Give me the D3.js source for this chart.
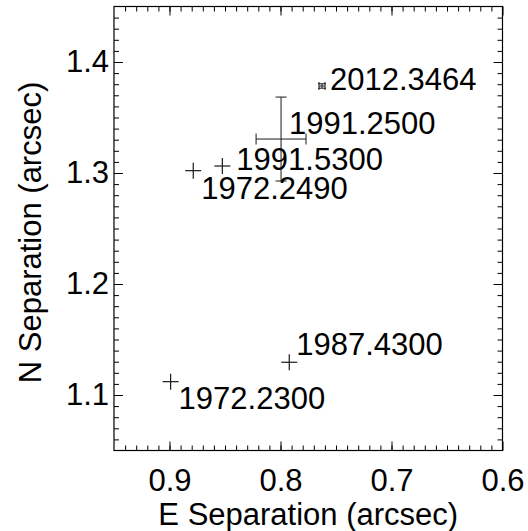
<!DOCTYPE html>
<html>
<head>
<meta charset="utf-8">
<script src="https://cdn.jsdelivr.net/npm/d3@7"></script>
<style>
  body { margin: 0; background: #fff; }
  svg text { font-family: "Liberation Sans", Arial, sans-serif; fill: #000; }
</style>
</head>
<body>
<svg id="chart" width="528" height="531"></svg>
<script>
// Observation epochs and separations (arcsec)
const epochs = ["1972.2300", "1972.2490", "1991.5300", "1991.2500", "2012.3464", "1987.4300"];
const eastSep = [0.899, 0.8786, 0.8524, 0.7995, 0.7626, 0.7921];
const northSep = [1.112, 1.3021, 1.3063, 1.3306, 1.3784, 1.1295];
const eastErr = [null, null, null, 0.0225, 0.0027, null];
const northErr = [null, null, null, 0.0378, 0.002, null];

const xTicks = [0.9, 0.8, 0.7, 0.6];
const yTicks = [1.1, 1.2, 1.3, 1.4];

// label offsets in pixels (dx, dy to baseline)
const labelOffsets = [[8, 27], [8, 28], [14, 4], [8, -5], [8, 4], [7, -7]];

const margin = { top: 6.5, right: 25.5, bottom: 80.5, left: 114 };
const width = 528 - margin.left - margin.right;
const height = 531 - margin.top - margin.bottom;

const svg = d3.select("#chart")
  .append("g")
  .attr("transform", `translate(${margin.left},${margin.top})`);

const x = d3.scaleLinear().domain([0.95, 0.6]).range([0, width]);
const y = d3.scaleLinear().domain([1.05, 1.45]).range([height, 0]);

const xMinor = d3.range(0, 36).map(i => +(0.95 - i * 0.01).toFixed(2)).filter(v => v > 0.6 && v < 0.95);
const yMinor = d3.range(0, 41).map(i => +(1.05 + i * 0.01).toFixed(2)).filter(v => v > 1.05 && v < 1.45);

function styleAxis(g) {
  g.select(".domain").remove();
  g.selectAll("line").attr("stroke", "#000").attr("stroke-width", 1);
}

// minor ticks on all four sides
svg.append("g").attr("transform", `translate(0,${height})`)
  .call(d3.axisBottom(x).tickValues(xMinor).tickSize(-5).tickFormat(""))
  .call(styleAxis);
svg.append("g")
  .call(d3.axisTop(x).tickValues(xMinor).tickSize(-5).tickFormat(""))
  .call(styleAxis);
svg.append("g")
  .call(d3.axisLeft(y).tickValues(yMinor).tickSize(-5).tickFormat(""))
  .call(styleAxis);
svg.append("g").attr("transform", `translate(${width},0)`)
  .call(d3.axisRight(y).tickValues(yMinor).tickSize(-5).tickFormat(""))
  .call(styleAxis);

// major ticks
svg.append("g").attr("transform", `translate(0,${height})`)
  .call(d3.axisBottom(x).tickValues(xTicks).tickSize(-9).tickPadding(18).tickFormat(d3.format(".1f")))
  .call(styleAxis)
  .selectAll("text").style("font-size", "31px");
svg.append("g")
  .call(d3.axisTop(x).tickValues(xTicks).tickSize(-9).tickFormat(""))
  .call(styleAxis);
svg.append("g")
  .call(d3.axisLeft(y).tickValues(yTicks).tickSize(-9).tickPadding(5).tickFormat(d3.format(".1f")))
  .call(styleAxis)
  .selectAll("text").style("font-size", "31px");
svg.append("g").attr("transform", `translate(${width},0)`)
  .call(d3.axisRight(y).tickValues(yTicks).tickSize(-9).tickFormat(""))
  .call(styleAxis);

// frame
svg.append("rect")
  .attr("width", width).attr("height", height)
  .attr("fill", "none").attr("stroke", "#000").attr("stroke-width", 1.2);

// axis titles
svg.append("text")
  .attr("x", width / 2).attr("y", 525 - margin.top)
  .attr("text-anchor", "middle").style("font-size", "31px")
  .text("E Separation (arcsec)");
svg.append("text")
  .attr("transform", `translate(${41 - margin.left},${height / 2 + 4}) rotate(-90)`)
  .attr("text-anchor", "middle").style("font-size", "31px")
  .text("N Separation (arcsec)");

const pts = epochs.map((e, i) => ({
  epoch: e, ex: eastSep[i], ny: northSep[i], exErr: eastErr[i], nyErr: northErr[i], off: labelOffsets[i]
}));

const markColor = "#1a1a1a";
const ps = 8, cap = 5.5;

// plus markers
pts.filter(d => d.exErr === null).forEach(d => {
  const cx = x(d.ex), cy = y(d.ny);
  const g = svg.append("g").attr("stroke", markColor).attr("stroke-width", 1.2);
  g.append("line").attr("x1", cx - ps).attr("x2", cx + ps).attr("y1", cy).attr("y2", cy);
  g.append("line").attr("x1", cx).attr("x2", cx).attr("y1", cy - ps).attr("y2", cy + ps);
});

// error bars
pts.filter(d => d.exErr !== null).forEach(d => {
  const cx = x(d.ex), cy = y(d.ny);
  const xl = x(d.ex + d.exErr), xr = x(d.ex - d.exErr);
  const yt = y(d.ny + d.nyErr), yb = y(d.ny - d.nyErr);
  const c = d.exErr < 0.005 ? 4 : cap;
  const g = svg.append("g").attr("stroke", markColor).attr("stroke-width", 1);
  g.append("line").attr("x1", xl).attr("x2", xr).attr("y1", cy).attr("y2", cy);
  g.append("line").attr("x1", xl).attr("x2", xl).attr("y1", cy - c).attr("y2", cy + c);
  g.append("line").attr("x1", xr).attr("x2", xr).attr("y1", cy - c).attr("y2", cy + c);
  g.append("line").attr("x1", cx).attr("x2", cx).attr("y1", yt).attr("y2", yb);
  g.append("line").attr("x1", cx - c).attr("x2", cx + c).attr("y1", yt).attr("y2", yt);
  g.append("line").attr("x1", cx - c).attr("x2", cx + c).attr("y1", yb).attr("y2", yb);
});

// epoch labels
svg.selectAll(".epoch")
  .data(pts)
  .enter()
  .append("text")
  .attr("class", "epoch")
  .attr("x", d => x(d.ex) + d.off[0])
  .attr("y", d => y(d.ny) + d.off[1])
  .style("font-size", "31px")
  .text(d => d.epoch);
</script>
</body>
</html>
